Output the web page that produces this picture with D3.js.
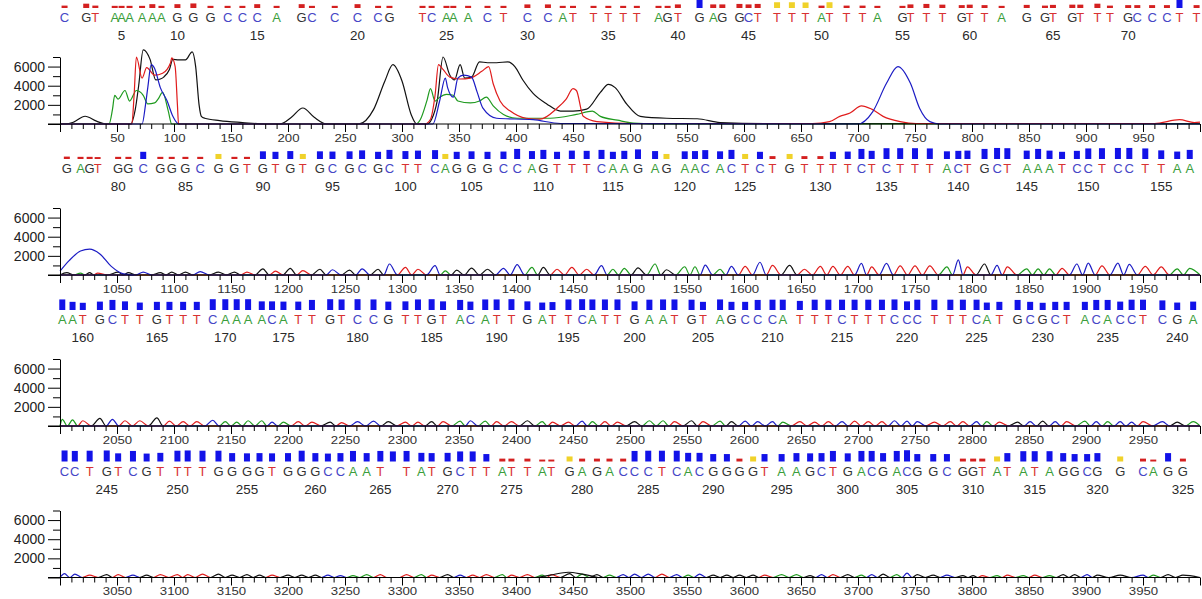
<!DOCTYPE html>
<html>
<head>
<meta charset="utf-8">
<script src="https://cdn.jsdelivr.net/npm/d3@7"></script>
<style>
  body { margin: 0; background: #fff; }
  svg { display: block; }
  text { font-family: "Liberation Sans", Arial, sans-serif; }
</style>
</head>
<body>
<svg id="chart" width="1202" height="599"></svg>
<script>
// ---- base calls, one row per panel ----
const seq1 = "CGTAAAAAAGGGCCCAGCCCCGTCAAACTCCATTTTTAGTGAGGCTTTTATTTAGTTTGTTAGGTGTTTGCCCTT";
const seq2 = "GAGTGGCGGGCGGTGTGTGCGCGCTTCAGGGCCAGTTTCAAGAGAACACTCTGTTTTCTCTTTACTGCTAAATCCTCCTTAA";
const seq3 = "AATGCTTGTTTCAAAACATTGTCCGTTGTACATTGATTCATTGAATGTAGCCCATTTCTTTCCCTTTCATGCGCTACACCTCGA";
const seq4 = "CCTGTCGTTTTGGGGTGGGCCAATNTATGCTTATTATGAGACCCTCACGGGGTAAGCTGACGACGGCGGTATATAGGCGGCAGG";

// scan position of each called base
const pos1 = [4,23,31,48,54,61,72,81,89,103, 117,132,147,160,173,190,212,221,241,261,
  279,289,318,326,339,345,358,375,389,410, 428,441,450,468,481,494,506,525,533,542,
  561,573,581,596,604,612,629,642,654,668, 675,690,704,717,739,746,760,774,791,798,
  811,826,848,864,871,888,895,910,921,937, 945,958,971,982,997];
const pos2 = [1006,1018,1026,1033,1051,1060,1073,1088,1098,1110, 1123,1139,1153,1164,1178,1189,1202,1213,1228,1239,
  1254,1265,1279,1289,1303,1314,1329,1338,1348,1361, 1375,1389,1401,1414,1424,1436,1449,1462,1475,1485,
  1495,1507,1522,1532,1548,1557,1566,1579,1589,1601, 1614,1625,1640,1653,1667,1678,1691,1703,1712,1725,
  1737,1750,1763,1778,1788,1796,1811,1822,1831,1848, 1858,1868,1879,1892,1902,1914,1928,1938,1952,1966,
  1980,1991];
const pos3 = [2002,2011,2020,2035,2046,2057,2070,2085,2096,2108, 2120,2134,2145,2155,2165,2177,2186,2196,2209,2221,
  2237,2247,2261,2275,2288,2303,2314,2326,2336,2351, 2360,2373,2383,2396,2410,2423,2432,2446,2458,2467,
  2478,2489,2504,2517,2529,2539,2554,2564,2579,2589, 2601,2612,2625,2634,2649,2662,2674,2686,2697,2709,
  2721,2732,2743,2752,2767,2781,2792,2804,2813,2824, 2840,2851,2862,2873,2883,2899,2909,2919,2930,2940,
  2950,2967,2980,2994];
const pos4 = [3004,3013,3026,3041,3051,3064,3076,3088,3103,3112, 3125,3139,3151,3164,3175,3186,3200,3212,3224,3235,
  3246,3257,3269,3281,3292,3304,3317,3326,3340,3351, 3362,3374,3388,3396,3410,3423,3431,3447,3458,3471,
  3482,3494,3504,3516,3528,3541,3551,3561,3573,3585, 3596,3608,3618,3633,3646,3658,3668,3678,3691,3703,
  3712,3722,3734,3743,3752,3766,3778,3792,3801,3809, 3822,3831,3845,3855,3868,3880,3890,3901,3910,3930,
  3950,3959,3972,3985];

// quality value of each call
const qual1 = [10,18,10,9,9,9,9,16,9,16, 19,9,9,9,16,9,16,9,9,16, 9,9,9,9,9,9,9,9,9,15,
  15,9,9,9,9,9,9,9,9,15, 42,15,15,17,15,17,24,24,23,10, 24,10,10,9,9,15,17,14,12,14,
  12,9,13,10,13,14,14,18,10,12, 12,12,12,45,12];
const qual2 = [10,9,9,8,9,9,30,9,9,9, 9,21,9,9,32,30,33,21,32,31, 32,36,30,38,33,35,37,21,30,32,
  30,31,42,33,38,30,35,34,38,30, 34,40,33,21,32,33,37,32,38,21, 30,12,21,12,12,30,31,42,34,45,
  45,45,44,32,34,35,42,46,45,35, 42,35,30,34,44,45,46,46,44,36, 31,38];
const qual3 = [44,34,30,35,42,36,31,34,34,34, 34,45,45,45,45,36,36,35,35,42, 45,44,45,44,35,36,44,45,36,42,
  35,44,44,45,36,31,33,44,45,44, 44,44,36,43,44,44,43,34,44,34, 34,42,43,43,38,43,43,43,43,43,
  43,44,36,43,43,43,43,43,31,34, 42,34,30,34,34,34,42,42,35,43, 43,40,31,35];
const qual4 = [46,44,45,46,34,44,33,36,45,46, 45,45,35,34,35,34,35,45,35,33, 35,44,35,44,42,44,36,35,36,42,
  42,31,12,12,12,8,8,21,12,12, 12,12,44,45,45,45,36,36,31,31, 12,21,31,31,35,34,35,44,34,44,
  44,35,44,47,31,31,31,12,12,12, 21,35,43,43,43,35,31,31,35,21, 12,8,35,12];

// peak height of each call (panels 2-4)
const peak2 = [250,200,250,200,300,250,300,250,300,300, 350,300,300,300,650,400,700,450,600,550,
  500,650,600,1150,790,600,970,430,500,720, 600,700,1080,790,790,600,790,600,970,600,
  700,750,1150,550,860,860,1040,600,900,900, 1330,1000,1000,600,900,900,900,1220,850,1220,
  950,950,950,850,1580,850,1150,1000,850,650, 650,650,700,1150,1250,950,1250,1100,900,850, 650,700];
const peak3 = [700,650,550,800,700,550,550,850,500,450, 450,600,450,400,550,550,400,400,450,400,
  400,350,450,500,450,400,400,450,450,500, 550,500,450,450,550,450,400,400,500,450,
  450,400,450,550,550,450,550,450,500,450, 500,450,450,400,450,400,450,450,500,450,
  450,550,500,450,400,450,450,450,450,400, 400,450,500,450,450,500,450,450,450,400, 450,450,400,450];
const peak4 = [400,350,250,300,300,250,250,300,300,300, 350,350,250,300,250,250,250,250,250,250,
  200,200,300,300,0,300,300,250,300,250, 250,300,300,250,300,250,300,400,350,300,
  250,300,350,350,350,300,250,350,250,250, 250,250,250,300,300,200,300,300,300,250,
  300,350,300,450,300,250,250,200,200,200, 200,250,200,250,200,300,300,300,250,250, 250,250,300,250];

// panel 1 traces read point by point: [scan, signal]
const traceG1 = [[0,0],[5,0],[12,200],[22,810],[32,300],[40,0],[62,0],[66,1500],[69,4000],[73,7750],[79,6750],
  [84,4600],[88,4700],[91,4900],[96,5700],[99,6750],[104,6700],[110,6700],[116,7540],[119,6000],[122,2000],
  [124,800],[127,600],[140,350],[160,150],[181,0],[193,0],[203,700],[213,1670],[223,700],[234,0],[262,0],
  [275,1500],[285,4500],[292,6200],[300,4500],[308,1000],[313,0],[322,0],[326,500],[331,2500],[336,7000],
  [342,5100],[346,4600],[351,6200],[355,4800],[361,4900],[368,6500],[375,6400],[383,6400],[393,6500],
  [399,6000],[406,4600],[415,3200],[427,2100],[439,1350],[450,1350],[462,1550],[474,3300],[481,4150],
  [487,3800],[497,2100],[509,800],[532,600],[559,550],[579,150],[620,50],[1000,50]];
const traceT1 = [[0,0],[63,0],[65,3000],[67,7000],[72,4800],[76,5900],[83,5100],[90,5300],[97,6400],[98,6900],
  [101,6000],[103,2000],[104,0],[320,0],[325,500],[329,3000],[332,6200],[336,5700],[342,4900],[351,4700],
  [360,4800],[370,5500],[376,6000],[380,4200],[386,2400],[395,1350],[409,600],[421,500],[436,1650],
  [444,2600],[450,3700],[453,3500],[459,800],[471,250],[503,50],[660,50],[675,250],[684,800],[693,1150],
  [703,1900],[712,1550],[722,800],[737,250],[751,50],[960,50],[982,450],[995,150],[1000,200]];
const traceC1 = [[0,0],[72,0],[75,2000],[77,3800],[80,6200],[83,5800],[88,3800],[94,2400],[99,800],[104,0],
  [327,0],[333,2400],[338,4800],[340,3800],[345,2800],[349,4800],[354,5100],[361,4900],[366,3300],
  [371,1650],[383,600],[415,450],[439,50],[700,0],[713,1300],[725,4250],[735,6000],[746,4250],[754,1650],
  [763,250],[772,0],[1000,0]];
const traceA1 = [[0,0],[43,0],[46,1500],[48,3000],[51,2600],[57,3500],[61,2400],[67,3500],[73,3000],[77,2100],
  [83,2200],[86,2600],[90,3300],[95,1350],[98,0],[312,0],[316,450],[322,2500],[325,3700],[329,2400],
  [333,2800],[339,3100],[345,3000],[349,2400],[360,2200],[368,2400],[374,2800],[380,1900],[389,1000],
  [401,600],[430,600],[453,1000],[467,1350],[474,800],[489,400],[503,100],[530,0],[1000,0]];

// stray humps outside the called peaks
const bumpC2 = [[1000,400],[1008,1500],[1018,2500],[1026,2700],[1035,2200],[1045,900],[1055,150],[1065,0]];
const bumpG4 = [[3418,0],[3430,250],[3446,550],[3458,350],[3472,0]];

const panelStart = [0, 1000, 2000, 3000];
const firstBase = [1, 76, 158, 242];
const yTicks = [0, 1000, 2000, 3000, 4000, 5000, 6000, 7000];

// ---- layout ----
const plotLeft = 60, plotRight = 1200;
const baseY = [124, 275, 426, 577.5];
const channels = ['G', 'A', 'T', 'C'];
const traceColor = { A: '#1f9a1f', C: '#1c1cc4', G: '#111111', T: '#e01c1c' };
const letterColor = { A: '#3b9e3b', C: '#4646c6', G: '#333333', T: '#d83232' };
const qualColor = d3.scaleThreshold().domain([20, 30]).range(['#d42020', '#f0d22a', '#1212e8']);
const qualHeight = d3.scaleLinear().domain([0, 50]).range([0, 12]);

const panels = [
  { seq: seq1, pos: pos1, qual: qual1, peak: null, traces: { G: traceG1, A: traceA1, T: traceT1, C: traceC1 }, bumps: [] },
  { seq: seq2, pos: pos2, qual: qual2, peak: peak2, bumps: [{ ch: 'C', pts: bumpC2 }] },
  { seq: seq3, pos: pos3, qual: qual3, peak: peak3, bumps: [] },
  { seq: seq4, pos: pos4, qual: qual4, peak: peak4, bumps: [{ ch: 'G', pts: bumpG4 }] }
];

// trace of one channel built from the called peaks
function peakTrace(p, start, ch) {
  const pts = [[start, 0]];
  p.pos.forEach((s, i) => {
    if (i > 0) pts.push([(p.pos[i - 1] + s) / 2, 0]);
    if (p.seq[i] === ch) pts.push([s, p.peak[i]]);
  });
  pts.push([start + 1000, 0]);
  return pts;
}

const svg = d3.select('#chart');

panels.forEach((p, k) => {
  const start = panelStart[k];
  const x = d3.scaleLinear().domain([start, start + 1000]).range([plotLeft, plotRight]);
  const y = d3.scaleLinear().domain([0, 7000]).range([0, -67]);
  const g = svg.append('g').attr('transform', `translate(0,${baseY[k]})`);

  const calls = p.seq.split('').map((b, i) => ({ b, pos: p.pos[i], q: p.qual[i], n: firstBase[k] + i }));

  // quality bars
  g.selectAll('rect.q').data(calls).join('rect')
    .attr('class', 'q')
    .attr('x', d => x(d.pos) - 3)
    .attr('width', 6)
    .attr('y', d => -116 - qualHeight(d.q))
    .attr('height', d => qualHeight(d.q))
    .attr('fill', d => qualColor(d.q));

  // base letters
  g.selectAll('text.base').data(calls.filter(d => d.b !== 'N')).join('text')
    .attr('class', 'base')
    .attr('x', d => x(d.pos))
    .attr('y', -102)
    .attr('text-anchor', 'middle')
    .attr('font-size', 13)
    .attr('fill', d => letterColor[d.b])
    .text(d => d.b);

  // base numbers (the one hanging off the right edge is not printed)
  g.selectAll('text.num').data(calls.filter(d => d.n % 5 === 0 && x(d.pos) < 1190)).join('text')
    .attr('class', 'num')
    .attr('transform', d => `translate(${x(d.pos)},-84) scale(1.12,1)`)
    .attr('text-anchor', 'middle')
    .attr('font-size', 12)
    .attr('fill', '#2a2a2a')
    .text(d => d.n);

  // traces
  const line = d3.line().x(d => x(d[0])).y(d => y(d[1])).curve(d3.curveMonotoneX);
  channels.forEach(ch => {
    const pts = p.traces ? p.traces[ch] : peakTrace(p, start, ch);
    g.append('path').attr('d', line(pts))
      .attr('fill', 'none').attr('stroke', traceColor[ch]).attr('stroke-width', 1.2);
  });
  p.bumps.forEach(bp => {
    g.append('path').attr('d', line(bp.pts))
      .attr('fill', 'none').attr('stroke', traceColor[bp.ch]).attr('stroke-width', 1.2);
  });

  // x axis: minor ticks every 10, labelled ticks every 50
  const minor = d3.range(start, start + 1001, 10).filter(v => v % 50 !== 0);
  const major = d3.range(start, start + 1001, 50);
  g.append('g').call(d3.axisBottom(x).tickValues(minor).tickSize(5).tickSizeOuter(0).tickFormat(''))
    .call(a => a.select('.domain').remove());
  const xa = g.append('g').call(d3.axisBottom(x).tickValues(major).tickSize(8).tickSizeOuter(0)
      .tickFormat(v => (v === start || v === start + 1000) ? '' : v));
  xa.select('.domain').attr('d', `M48,0H${plotRight}`);
  xa.selectAll('.tick text').attr('font-size', 11).attr('fill', '#333').attr('y', 10)
    .attr('transform', 'scale(1.2,1)');

  // y axis
  const ya = g.append('g').attr('transform', `translate(${plotLeft},0)`);
  ya.call(d3.axisLeft(y).tickValues(yTicks).tickSizeOuter(0)
      .tickFormat(v => (v % 2000 === 0 && v > 0) ? v : ''));
  ya.selectAll('.tick line').attr('x2', v => (v % 2000 === 0) ? -12 : -7);
  ya.selectAll('.tick text').attr('x', -15).attr('font-size', 14).attr('fill', '#222');
});
</script>
</body>
</html>
